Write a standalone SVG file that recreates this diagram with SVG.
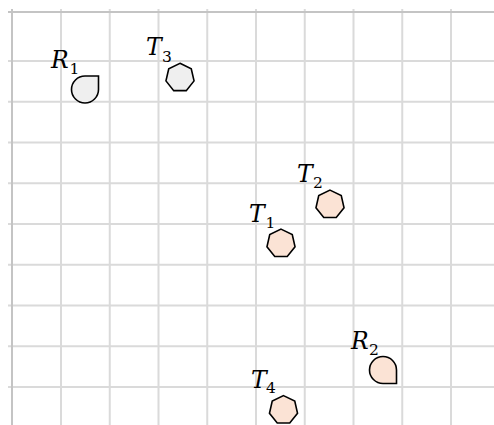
<svg xmlns="http://www.w3.org/2000/svg" xmlns:xlink="http://www.w3.org/1999/xlink" width="494" height="425" viewBox="0 0 494 425">
<style>
.grid{stroke:#dadada;stroke-width:2;fill:none}
.axis{stroke:#c4c4c4;stroke-width:2;fill:none}
.shape{stroke:#000;stroke-width:1.6;stroke-linejoin:miter}
.gray{fill:#efefef}
.peach{fill:#fbe3d5}
.lbl{font-family:"DejaVu Serif","Liberation Serif",serif;font-style:italic;font-size:23.5px;fill:#000}
.sub{font-size:15.5px;font-style:normal}
</style>
<defs>
<polygon id="hept" points="0,-14.4 11.26,-8.98 14.04,3.2 6.25,12.97 -6.25,12.97 -14.04,3.2 -11.26,-8.98"/>
</defs>
<rect width="494" height="425" fill="#fff"/>
<g id="grid">
<path class="grid" d="M61,9V425M109.75,9V425M158.5,9V425M207.25,9V425M256,9V425M304.75,9V425M353.5,9V425M402.25,9V425M451,9V425"/>
<path class="grid" d="M8,61H494M8,101.75H494M8,142.5H494M8,183.25H494M8,224H494M8,264.75H494M8,305.5H494M8,346.25H494M8,387H494"/>
<path class="axis" d="M8,12H494M12,9V425"/>
</g>
<g id="connectors"/>
<g id="R1">
<path class="shape gray" d="M85,76H98.5V89.5A13.5,13.5 0 1 1 85,76Z"/>
<text class="lbl" x="51" y="68">R<tspan class="sub" x="69.5" y="74">1</tspan></text>
</g>
<g id="T3">
<use xlink:href="#hept" class="shape gray" x="180" y="77.7"/>
<text class="lbl" x="146" y="55">T<tspan class="sub" x="162" y="62">3</tspan></text>
</g>
<g id="T2">
<use xlink:href="#hept" class="shape peach" x="330" y="204.5"/>
<text class="lbl" x="297" y="182">T<tspan class="sub" x="313" y="188">2</tspan></text>
</g>
<g id="T1">
<use xlink:href="#hept" class="shape peach" x="281" y="243.5"/>
<text class="lbl" x="249" y="222">T<tspan class="sub" x="265.5" y="228">1</tspan></text>
</g>
<g id="R2">
<path class="shape peach" d="M396.5,370V383.5H383A13.5,13.5 0 1 1 396.5,370Z"/>
<text class="lbl" x="351" y="349">R<tspan class="sub" x="369" y="355">2</tspan></text>
</g>
<g id="T4">
<use xlink:href="#hept" class="shape peach" x="283.5" y="410"/>
<text class="lbl" x="251" y="388">T<tspan class="sub" x="266" y="393">4</tspan></text>
</g>
</svg>
